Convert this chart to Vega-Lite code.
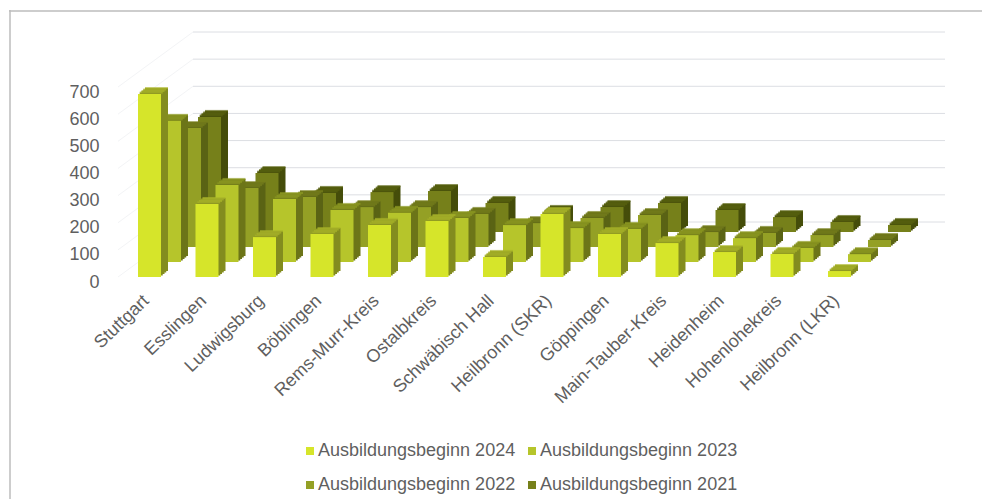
{"$schema":"https://vega.github.io/schema/vega-lite/v6.json","width":973,"height":489,"padding":{"left":9,"top":10,"right":0,"bottom":0},"autosize":"none","background":"white","config":{"view":{"stroke":null},"font":"Liberation Sans"},"data":{"values":[
{"k":"Stuttgart","s":"Ausbildungsbeginn 2024","v":674},{"k":"Esslingen","s":"Ausbildungsbeginn 2024","v":269},{"k":"Ludwigsburg","s":"Ausbildungsbeginn 2024","v":147},{"k":"Böblingen","s":"Ausbildungsbeginn 2024","v":158},{"k":"Rems-Murr-Kreis","s":"Ausbildungsbeginn 2024","v":192},{"k":"Ostalbkreis","s":"Ausbildungsbeginn 2024","v":206},{"k":"Schwäbisch Hall","s":"Ausbildungsbeginn 2024","v":74},{"k":"Heilbronn (SKR)","s":"Ausbildungsbeginn 2024","v":232},{"k":"Göppingen","s":"Ausbildungsbeginn 2024","v":158},{"k":"Main-Tauber-Kreis","s":"Ausbildungsbeginn 2024","v":125},{"k":"Heidenheim","s":"Ausbildungsbeginn 2024","v":92},{"k":"Hohenlohekreis","s":"Ausbildungsbeginn 2024","v":85},{"k":"Heilbronn (LKR)","s":"Ausbildungsbeginn 2024","v":22},
{"k":"Stuttgart","s":"Ausbildungsbeginn 2023","v":520},{"k":"Esslingen","s":"Ausbildungsbeginn 2023","v":284},{"k":"Ludwigsburg","s":"Ausbildungsbeginn 2023","v":232},{"k":"Böblingen","s":"Ausbildungsbeginn 2023","v":192},{"k":"Rems-Murr-Kreis","s":"Ausbildungsbeginn 2023","v":181},{"k":"Ostalbkreis","s":"Ausbildungsbeginn 2023","v":162},{"k":"Schwäbisch Hall","s":"Ausbildungsbeginn 2023","v":136},{"k":"Heilbronn (SKR)","s":"Ausbildungsbeginn 2023","v":125},{"k":"Göppingen","s":"Ausbildungsbeginn 2023","v":122},{"k":"Main-Tauber-Kreis","s":"Ausbildungsbeginn 2023","v":99},{"k":"Heidenheim","s":"Ausbildungsbeginn 2023","v":88},{"k":"Hohenlohekreis","s":"Ausbildungsbeginn 2023","v":52},{"k":"Heilbronn (LKR)","s":"Ausbildungsbeginn 2023","v":29},
{"k":"Stuttgart","s":"Ausbildungsbeginn 2022","v":438},{"k":"Esslingen","s":"Ausbildungsbeginn 2022","v":217},{"k":"Ludwigsburg","s":"Ausbildungsbeginn 2022","v":184},{"k":"Böblingen","s":"Ausbildungsbeginn 2022","v":147},{"k":"Rems-Murr-Kreis","s":"Ausbildungsbeginn 2022","v":147},{"k":"Ostalbkreis","s":"Ausbildungsbeginn 2022","v":122},{"k":"Schwäbisch Hall","s":"Ausbildungsbeginn 2022","v":88},{"k":"Heilbronn (SKR)","s":"Ausbildungsbeginn 2022","v":107},{"k":"Göppingen","s":"Ausbildungsbeginn 2022","v":118},{"k":"Main-Tauber-Kreis","s":"Ausbildungsbeginn 2022","v":55},{"k":"Heidenheim","s":"Ausbildungsbeginn 2022","v":52},{"k":"Hohenlohekreis","s":"Ausbildungsbeginn 2022","v":44},{"k":"Heilbronn (LKR)","s":"Ausbildungsbeginn 2022","v":26},
{"k":"Stuttgart","s":"Ausbildungsbeginn 2021","v":424},{"k":"Esslingen","s":"Ausbildungsbeginn 2021","v":217},{"k":"Ludwigsburg","s":"Ausbildungsbeginn 2021","v":144},{"k":"Böblingen","s":"Ausbildungsbeginn 2021","v":147},{"k":"Rems-Murr-Kreis","s":"Ausbildungsbeginn 2021","v":151},{"k":"Ostalbkreis","s":"Ausbildungsbeginn 2021","v":107},{"k":"Schwäbisch Hall","s":"Ausbildungsbeginn 2021","v":74},{"k":"Heilbronn (SKR)","s":"Ausbildungsbeginn 2021","v":92},{"k":"Göppingen","s":"Ausbildungsbeginn 2021","v":107},{"k":"Main-Tauber-Kreis","s":"Ausbildungsbeginn 2021","v":81},{"k":"Heidenheim","s":"Ausbildungsbeginn 2021","v":55},{"k":"Hohenlohekreis","s":"Ausbildungsbeginn 2021","v":37},{"k":"Heilbronn (LKR)","s":"Ausbildungsbeginn 2021","v":26}
]},
"encoding":{"x":{"field":"k","type":"nominal","sort":null,"title":null,"scale":{"domain":["Stuttgart","Esslingen","Ludwigsburg","Böblingen","Rems-Murr-Kreis","Ostalbkreis","Schwäbisch Hall","Heilbronn (SKR)","Göppingen","Main-Tauber-Kreis","Heidenheim","Hohenlohekreis","Heilbronn (LKR)"],"range":[111.75,859.25],"padding":0},"axis":{"orient":"bottom","offset":-201,"labelOffset":-3,"labelAngle":-44,"labelAlign":"right","labelBaseline":"middle","labelFontSize":18,"labelColor":"#5f5f5f","labelPadding":0,"labelOverlap":false,"domain":false,"ticks":false,"grid":false}},"y":{"field":"v","type":"quantitative","title":null,"scale":{"domain":[0,700],"range":[267,77],"nice":false},"axis":{"orient":"left","offset":-90,"values":[0,100,200,300,400,500,600,700],"labelOffset":5,"labelFontSize":18,"labelColor":"#5f5f5f","labelPadding":0,"domain":false,"ticks":false,"grid":false}}},
"layer":[
{"data":{"values":[{"frame":"top"}]},"mark":{"type":"rule","color":"#bdbdbd","strokeWidth":1.5},"encoding":{"x":null,"y":{"value":1}}},
{"data":{"values":[{"frame":"left"}]},"mark":{"type":"rule","color":"#bdbdbd","strokeWidth":1.5},"encoding":{"y":null,"x":{"value":1}}},
{"data":{"values":[{"g":0},{"g":100},{"g":200},{"g":300},{"g":400},{"g":500},{"g":600},{"g":700}]},"mark":{"type":"rule","color":"#f3f4f6","strokeWidth":1,"xOffset":-31.5,"x2Offset":43.5,"y2Offset":-55},"encoding":{"x":{"datum":"Stuttgart"},"x2":{"datum":"Stuttgart"},"y":{"field":"g","type":"quantitative"},"y2":{"field":"g"}}},
{"data":{"values":[{"g":0},{"g":100},{"g":200},{"g":300},{"g":400},{"g":500},{"g":600},{"g":700}]},"mark":{"type":"rule","color":"#dcdee3","strokeWidth":1,"xOffset":43.5,"x2Offset":105.5,"yOffset":-55,"y2Offset":-55},"encoding":{"x":{"datum":"Stuttgart"},"x2":{"datum":"Heilbronn (LKR)"},"y":{"field":"g","type":"quantitative"},"y2":{"field":"g"}}},

{"transform":[{"filter":"datum.s=='Ausbildungsbeginn 2021'"}],"mark":{"type":"bar","width":23,"color":"#454d0a","xOffset":67,"yOffset":-51,"y2Offset":-51}},
{"transform":[{"filter":"datum.s=='Ausbildungsbeginn 2021'"}],"mark":{"type":"bar","width":23,"color":"#454d0a","xOffset":65.25,"yOffset":-49.5,"y2Offset":-49.5}},
{"transform":[{"filter":"datum.s=='Ausbildungsbeginn 2021'"}],"mark":{"type":"bar","width":23,"color":"#454d0a","xOffset":63.5,"yOffset":-48,"y2Offset":-48}},
{"transform":[{"filter":"datum.s=='Ausbildungsbeginn 2021'"}],"mark":{"type":"bar","width":23,"color":"#454d0a","xOffset":61.75,"yOffset":-46.5,"y2Offset":-46.5}},
{"transform":[{"filter":"datum.s=='Ausbildungsbeginn 2021'"}],"mark":{"type":"tick","size":23,"thickness":2,"color":"#59620f","xOffset":67,"yOffset":-51}},
{"transform":[{"filter":"datum.s=='Ausbildungsbeginn 2021'"}],"mark":{"type":"tick","size":23,"thickness":2,"color":"#59620f","xOffset":65.25,"yOffset":-49.5}},
{"transform":[{"filter":"datum.s=='Ausbildungsbeginn 2021'"}],"mark":{"type":"tick","size":23,"thickness":2,"color":"#59620f","xOffset":63.5,"yOffset":-48}},
{"transform":[{"filter":"datum.s=='Ausbildungsbeginn 2021'"}],"mark":{"type":"tick","size":23,"thickness":2,"color":"#59620f","xOffset":61.75,"yOffset":-46.5}},
{"transform":[{"filter":"datum.s=='Ausbildungsbeginn 2021'"}],"mark":{"type":"bar","width":23,"xOffset":60,"yOffset":-45,"y2Offset":-45},"encoding":{"color":{"field":"s","type":"nominal","title":null,"scale":{"domain":["Ausbildungsbeginn 2024","Ausbildungsbeginn 2023","Ausbildungsbeginn 2022","Ausbildungsbeginn 2021"],"range":["#d6e52a","#b6c52b","#94a025","#76801a"]},"legend":{"orient":"none","legendX":292,"legendY":432,"columns":2,"direction":"horizontal","symbolType":"square","symbolSize":64,"symbolOpacity":1,"labelFontSize":18,"labelOffset":-1,"labelColor":"#5f5f5f","labelLimit":260,"rowPadding":16,"columnPadding":7,"title":null}}}},

{"transform":[{"filter":"datum.s=='Ausbildungsbeginn 2022'"}],"mark":{"type":"bar","width":23,"color":"#5a6314","xOffset":47,"yOffset":-36,"y2Offset":-36}},
{"transform":[{"filter":"datum.s=='Ausbildungsbeginn 2022'"}],"mark":{"type":"bar","width":23,"color":"#5a6314","xOffset":45.25,"yOffset":-34.5,"y2Offset":-34.5}},
{"transform":[{"filter":"datum.s=='Ausbildungsbeginn 2022'"}],"mark":{"type":"bar","width":23,"color":"#5a6314","xOffset":43.5,"yOffset":-33,"y2Offset":-33}},
{"transform":[{"filter":"datum.s=='Ausbildungsbeginn 2022'"}],"mark":{"type":"bar","width":23,"color":"#5a6314","xOffset":41.75,"yOffset":-31.5,"y2Offset":-31.5}},
{"transform":[{"filter":"datum.s=='Ausbildungsbeginn 2022'"}],"mark":{"type":"tick","size":23,"thickness":2,"color":"#767f1c","xOffset":47,"yOffset":-36}},
{"transform":[{"filter":"datum.s=='Ausbildungsbeginn 2022'"}],"mark":{"type":"tick","size":23,"thickness":2,"color":"#767f1c","xOffset":45.25,"yOffset":-34.5}},
{"transform":[{"filter":"datum.s=='Ausbildungsbeginn 2022'"}],"mark":{"type":"tick","size":23,"thickness":2,"color":"#767f1c","xOffset":43.5,"yOffset":-33}},
{"transform":[{"filter":"datum.s=='Ausbildungsbeginn 2022'"}],"mark":{"type":"tick","size":23,"thickness":2,"color":"#767f1c","xOffset":41.75,"yOffset":-31.5}},
{"transform":[{"filter":"datum.s=='Ausbildungsbeginn 2022'"}],"mark":{"type":"bar","width":23,"color":"#94a025","xOffset":40,"yOffset":-30,"y2Offset":-30}},

{"transform":[{"filter":"datum.s=='Ausbildungsbeginn 2023'"}],"mark":{"type":"bar","width":23,"color":"#6c7518","xOffset":27,"yOffset":-21,"y2Offset":-21}},
{"transform":[{"filter":"datum.s=='Ausbildungsbeginn 2023'"}],"mark":{"type":"bar","width":23,"color":"#6c7518","xOffset":25.25,"yOffset":-19.5,"y2Offset":-19.5}},
{"transform":[{"filter":"datum.s=='Ausbildungsbeginn 2023'"}],"mark":{"type":"bar","width":23,"color":"#6c7518","xOffset":23.5,"yOffset":-18,"y2Offset":-18}},
{"transform":[{"filter":"datum.s=='Ausbildungsbeginn 2023'"}],"mark":{"type":"bar","width":23,"color":"#6c7518","xOffset":21.75,"yOffset":-16.5,"y2Offset":-16.5}},
{"transform":[{"filter":"datum.s=='Ausbildungsbeginn 2023'"}],"mark":{"type":"tick","size":23,"thickness":2,"color":"#8f9b22","xOffset":27,"yOffset":-21}},
{"transform":[{"filter":"datum.s=='Ausbildungsbeginn 2023'"}],"mark":{"type":"tick","size":23,"thickness":2,"color":"#8f9b22","xOffset":25.25,"yOffset":-19.5}},
{"transform":[{"filter":"datum.s=='Ausbildungsbeginn 2023'"}],"mark":{"type":"tick","size":23,"thickness":2,"color":"#8f9b22","xOffset":23.5,"yOffset":-18}},
{"transform":[{"filter":"datum.s=='Ausbildungsbeginn 2023'"}],"mark":{"type":"tick","size":23,"thickness":2,"color":"#8f9b22","xOffset":21.75,"yOffset":-16.5}},
{"transform":[{"filter":"datum.s=='Ausbildungsbeginn 2023'"}],"mark":{"type":"bar","width":23,"color":"#b6c52b","xOffset":20,"yOffset":-15,"y2Offset":-15}},

{"transform":[{"filter":"datum.s=='Ausbildungsbeginn 2024'"}],"mark":{"type":"bar","width":23,"color":"#838c1f","xOffset":7,"yOffset":-6,"y2Offset":-6}},
{"transform":[{"filter":"datum.s=='Ausbildungsbeginn 2024'"}],"mark":{"type":"bar","width":23,"color":"#838c1f","xOffset":5.25,"yOffset":-4.5,"y2Offset":-4.5}},
{"transform":[{"filter":"datum.s=='Ausbildungsbeginn 2024'"}],"mark":{"type":"bar","width":23,"color":"#838c1f","xOffset":3.5,"yOffset":-3,"y2Offset":-3}},
{"transform":[{"filter":"datum.s=='Ausbildungsbeginn 2024'"}],"mark":{"type":"bar","width":23,"color":"#838c1f","xOffset":1.75,"yOffset":-1.5,"y2Offset":-1.5}},
{"transform":[{"filter":"datum.s=='Ausbildungsbeginn 2024'"}],"mark":{"type":"tick","size":23,"thickness":2,"color":"#a9b52a","xOffset":7,"yOffset":-6}},
{"transform":[{"filter":"datum.s=='Ausbildungsbeginn 2024'"}],"mark":{"type":"tick","size":23,"thickness":2,"color":"#a9b52a","xOffset":5.25,"yOffset":-4.5}},
{"transform":[{"filter":"datum.s=='Ausbildungsbeginn 2024'"}],"mark":{"type":"tick","size":23,"thickness":2,"color":"#a9b52a","xOffset":3.5,"yOffset":-3}},
{"transform":[{"filter":"datum.s=='Ausbildungsbeginn 2024'"}],"mark":{"type":"tick","size":23,"thickness":2,"color":"#a9b52a","xOffset":1.75,"yOffset":-1.5}},
{"transform":[{"filter":"datum.s=='Ausbildungsbeginn 2024'"}],"mark":{"type":"bar","width":23,"color":"#d6e52a"}}
]}
